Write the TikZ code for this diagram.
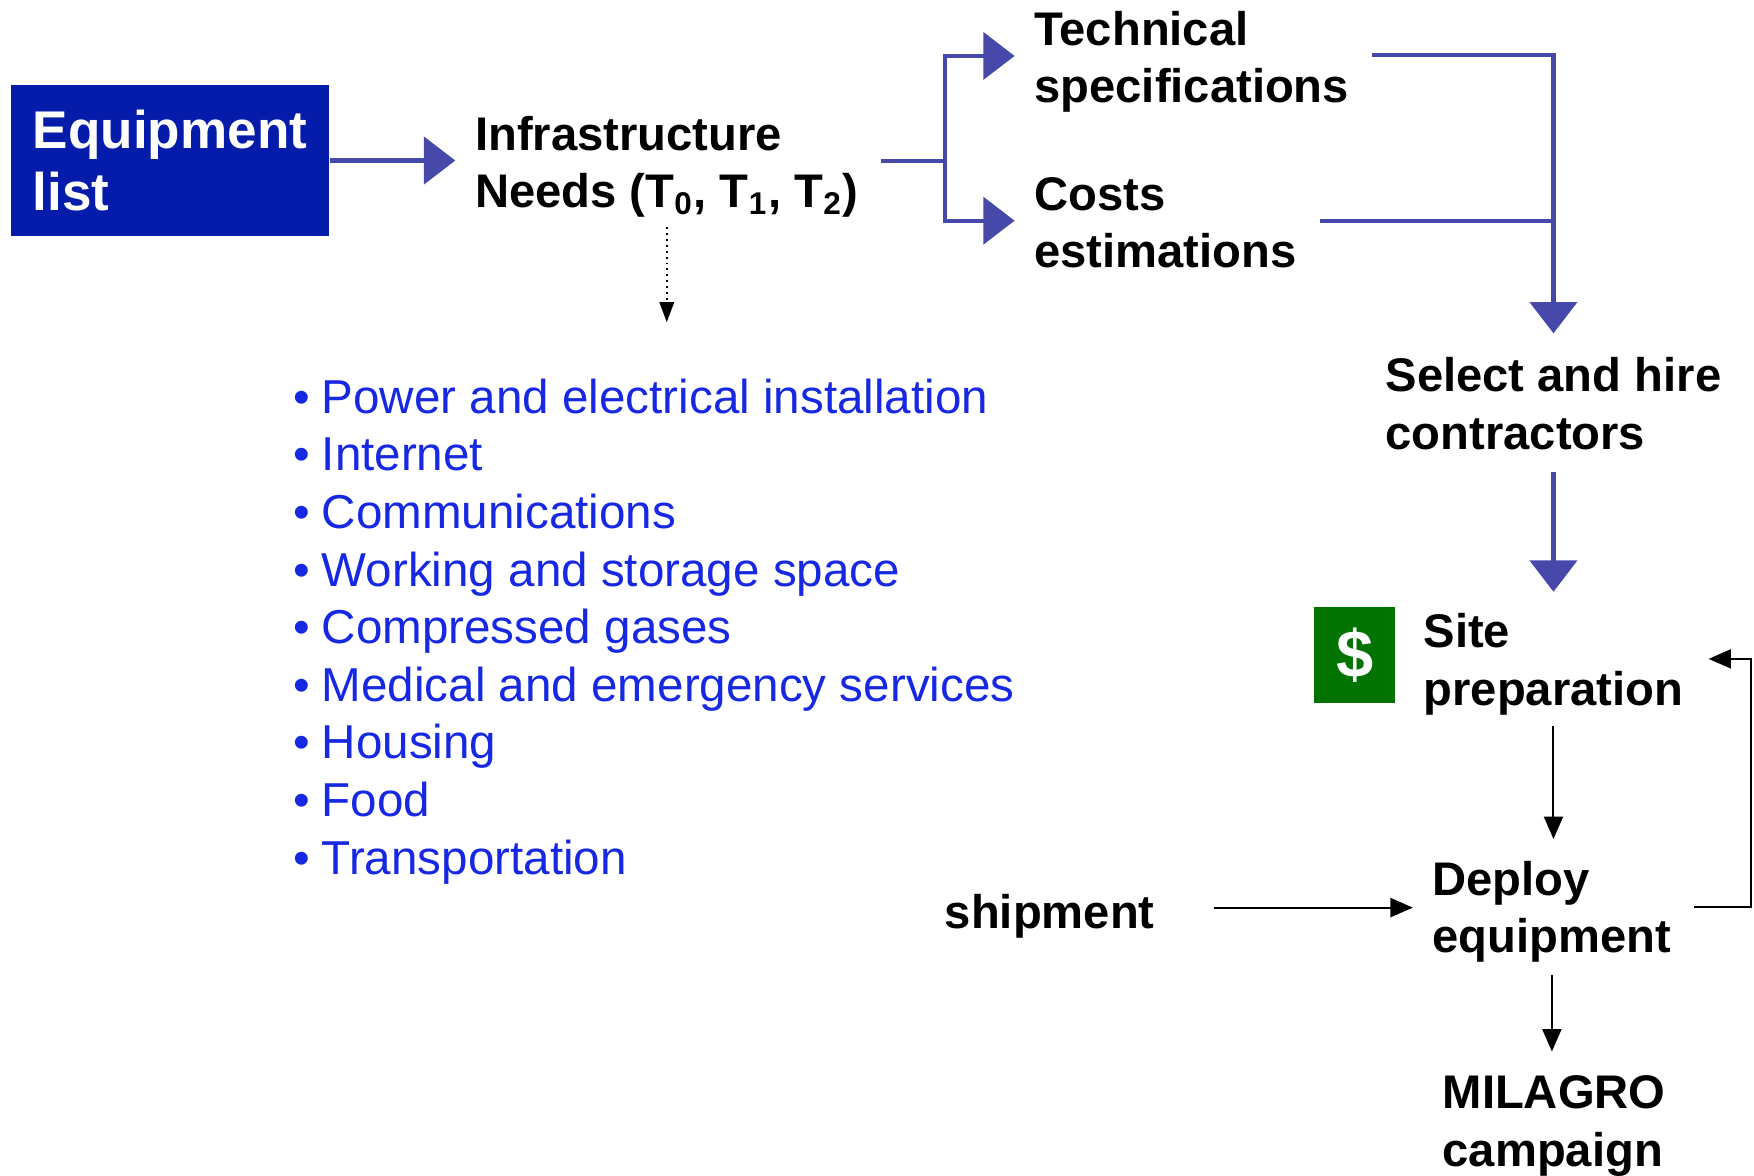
\documentclass[tikz,border=0pt]{standalone}
\usepackage{fontspec}
\setmainfont{Liberation Sans}
\usetikzlibrary{positioning, arrows.meta}
\definecolor{listblue}{RGB}{5,28,170}
\definecolor{flowblue}{RGB}{70,72,170}
\definecolor{itemblue}{RGB}{22,40,225}
\definecolor{dollargreen}{RGB}{0,115,0}
\newcommand{\itm}[1]{\makebox[0.25cm][l]{\textbullet}#1}

\begin{document}
\begin{tikzpicture}[
    lbl/.style={anchor=north west, inner sep=0pt, align=left, font=\fontsize{12pt}{14.6pt}\selectfont\bfseries},
    bluearrow/.style={draw=flowblue, line width=1.1pt, -{Triangle[length=0.28cm,width=0.42cm]}},
    blueline/.style={draw=flowblue, line width=1.1pt},
    blkarrow/.style={line width=0.5pt, -{Triangle[length=0.2cm,width=0.17cm]}}
  ]
    \useasboundingbox (0,0) rectangle (15.68,-10.51);

    \node[fill=listblue, text=white, minimum width=2.84cm, minimum height=1.35cm, inner sep=0pt, align=left,
          font=\fontsize{13.5pt}{16pt}\selectfont\bfseries] (list) at (1.52,-1.435) {Equipment\\list};
    \node[lbl] (needs) at (4.24,-1.03) {Infrastructure\\Needs (T\textsubscript{0}, T\textsubscript{1}, T\textsubscript{2})};
    \node[lbl] (tech) at (9.24,-0.09) {Technical\\specifications};
    \node[lbl] (costs) at (9.24,-1.58) {Costs\\estimations};
    \node[lbl] (select) at (12.38,-3.19) {Select and hire\\contractors};
    \node[fill=dollargreen, text=white, minimum width=0.72cm, minimum height=0.85cm, inner sep=0pt,
          font=\fontsize{17pt}{20pt}\selectfont\bfseries] (dollar) at (12.11,-5.855) {\$};
    \node[lbl] (site) at (12.72,-5.48) {Site\\preparation};
    \node[lbl] (deploy) at (12.80,-7.69) {Deploy\\equipment};
    \node[lbl] (ship) at (8.44,-7.99) {shipment};
    \node[lbl] (milagro) at (12.89,-9.61) {MILAGRO\\campaign};

    \node[anchor=north west, inner sep=0pt, align=left, text=itemblue, font=\fontsize{12.1pt}{14.65pt}\selectfont] (items) at (2.62,-3.38) {%
        \itm{Power and electrical installation}\\
        \itm{Internet}\\
        \itm{Communications}\\
        \itm{Working and storage space}\\
        \itm{Compressed gases}\\
        \itm{Medical and emergency services}\\
        \itm{Housing}\\
        \itm{Food}\\
        \itm{Transportation}};

    \coordinate (fork) at (8.45,-1.44);

    \draw[bluearrow, shorten >=0.17cm] (list.east) -- (list.east -| needs.west);
    \draw[line width=0.5pt, densely dotted, -{Triangle[length=0.18cm,width=0.13cm]}, shorten <=0.08cm, shorten >=0.5cm] (needs.south) -- (needs.south |- items.north);
    \draw[blueline, shorten <=0.19cm] (needs.east |- fork) -- (fork);
    \draw[bluearrow, shorten >=0.17cm] (fork) |- ([yshift=0.05cm]tech.west);
    \draw[bluearrow, shorten >=0.17cm] (fork) |- ([yshift=0.02cm]costs.west);
    \draw[bluearrow, shorten <=0.2cm, shorten >=0.21cm] ([yshift=0.06cm]tech.east) -| (select.north);
    \draw[blueline, shorten <=0.2cm] ([yshift=0.02cm]costs.east) -- ([yshift=0.02cm]costs.east -| select.north);
    \draw[bluearrow, shorten <=0.19cm, shorten >=0.19cm] (select.south) -- (select.south |- site.north);
    \draw[blkarrow, shorten <=0.09cm, shorten >=0.19cm] (site.south) -- (site.south |- deploy.north);
    \draw[blkarrow, shorten <=0.52cm, shorten >=0.17cm] ([yshift=0.08cm]ship.east) -- ([yshift=0.08cm]ship.east -| deploy.west);
    \draw[blkarrow, shorten >=0.22cm] ([xshift=0.2cm,yshift=0.04cm]deploy.east) -- ++(0.51,0) |- ([yshift=0.05cm]site.east);
    \draw[blkarrow, shorten <=0.11cm, shorten >=0.21cm] (deploy.south) -- (deploy.south |- milagro.north);
\end{tikzpicture}
\end{document}
